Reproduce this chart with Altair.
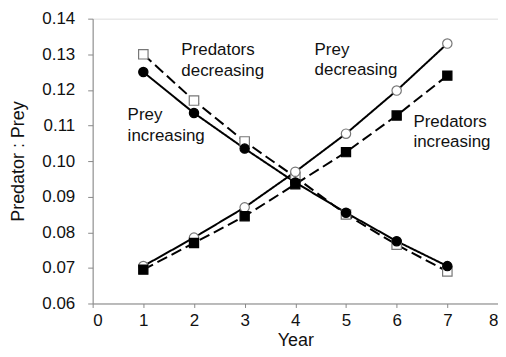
import altair as alt
import pandas as pd

years = [1, 2, 3, 4, 5, 6, 7]
series_names = ["Predators decreasing", "Prey decreasing", "Prey increasing", "Predators increasing"]
pred_decreasing = [0.130, 0.117, 0.1055, 0.0955, 0.085, 0.0765, 0.069]
prey_decreasing = [0.0705, 0.0785, 0.087, 0.097, 0.1077, 0.1198, 0.133]
prey_increasing = [0.125, 0.1135, 0.1035, 0.094, 0.0855, 0.0775, 0.0705]
pred_increasing = [0.0695, 0.077, 0.0845, 0.0935, 0.1025, 0.1128, 0.124]

y_ticks = [0.06, 0.07, 0.08, 0.09, 0.10, 0.11, 0.12, 0.13, 0.14]
x_ticks = [0, 1, 2, 3, 4, 5, 6, 7, 8]

label_text = ["Predators", "decreasing", "Prey", "increasing", "Prey", "decreasing", "Predators", "increasing"]
label_x = [1.75, 1.75, 0.69, 0.69, 4.38, 4.38, 6.33, 6.33]
label_y = [0.1313, 0.1252, 0.1129, 0.1070, 0.1311, 0.1255, 0.1109, 0.1053]

rows = []
for name, vals in zip(series_names, [pred_decreasing, prey_decreasing, prey_increasing, pred_increasing]):
    for yr, v in zip(years, vals):
        rows.append({"series": name, "year": yr, "value": v})
df = pd.DataFrame(rows)
labels = pd.DataFrame({"x": label_x, "y": label_y, "text": label_text})

FONT = "Liberation Sans"

xs = alt.Scale(domain=[0, 8], nice=False)
ys = alt.Scale(domain=[0.06, 0.14], nice=False, zero=False)

xax = alt.Axis(values=x_ticks, format="d", title="Year", grid=False,
               domainColor="#888888", tickColor="#888888", tickSize=4,
               labelColor="#111111", labelFontSize=17, labelFont=FONT, labelPadding=5,
               labelOverlap=False,
               titleFontSize=18, titleFont=FONT, titleFontWeight="normal", titleColor="#111111",
               titlePadding=3)
yax = alt.Axis(values=y_ticks, format=".2f", tickCount=9,
               title="Predator : Prey", grid=False,
               domainColor="#888888", tickColor="#888888", tickSize=5,
               labelColor="#111111", labelFontSize=17, labelFont=FONT, labelPadding=13,
               labelOverlap=False,
               titleFontSize=18, titleFont=FONT, titleFontWeight="normal", titleColor="#111111",
               titlePadding=14)

base = alt.Chart(df).encode(
    x=alt.X("year:Q", scale=xs, axis=xax),
    y=alt.Y("value:Q", scale=ys, axis=yax),
)

lines = base.mark_line(color="black", strokeWidth=2).encode(
    detail="series:N",
    strokeDash=alt.StrokeDash("series:N", scale=alt.Scale(domain=series_names,
                              range=[[11, 5], [1, 0], [1, 0], [11, 5]]), legend=None),
)

points = base.mark_point(filled=True, opacity=1, strokeWidth=1.2).encode(
    shape=alt.Shape("series:N", scale=alt.Scale(domain=series_names,
                    range=["square", "circle", "circle", "square"]), legend=None),
    fill=alt.Fill("series:N", scale=alt.Scale(domain=series_names,
                  range=["white", "white", "black", "black"]), legend=None),
    stroke=alt.Stroke("series:N", scale=alt.Scale(domain=series_names,
                      range=["#777777", "#777777", "black", "black"]), legend=None),
    size=alt.Size("series:N", scale=alt.Scale(domain=series_names,
                  range=[90, 85, 85, 90]), legend=None),
)

text = alt.Chart(labels).mark_text(align="left", baseline="middle", fontSize=17,
                                   font=FONT, color="#111111").encode(
    x=alt.X("x:Q", scale=xs, axis=xax),
    y=alt.Y("y:Q", scale=ys, axis=yax),
    text="text:N",
)

chart = alt.layer(lines, points, text).properties(
    width=407, height=286,
    autosize=alt.AutoSizeParams(type="none"),
    padding={"left": 85, "top": 10, "right": 0, "bottom": 45},
).configure_view(stroke=None).configure(background="white")

chart.save("out.html", embed_options={"renderer": "svg", "actions": False})
